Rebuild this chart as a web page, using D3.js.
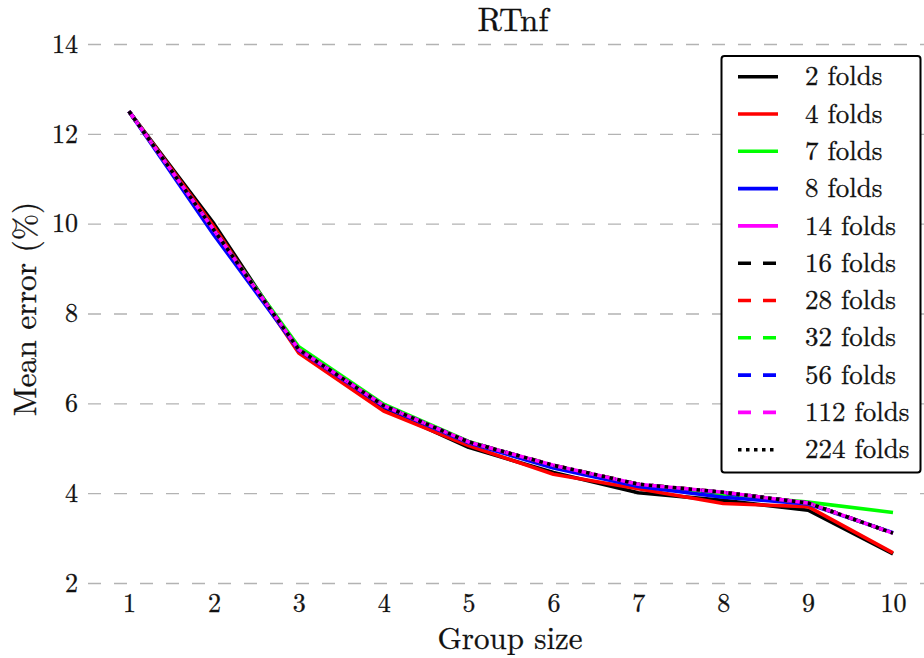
<!DOCTYPE html>
<html>
<head>
<meta charset="utf-8">
<title>RTnf</title>
<script src="https://d3js.org/d3.v7.min.js"></script>
<style>
  body { margin: 0; background: #fff; }
  svg text {
    font-family: "Latin Modern Roman", "Liberation Serif", serif;
    fill: #111;
    stroke: #111;
    stroke-width: 0.3px;
  }
</style>
</head>
<body>
<div id="chart"></div>
<script>
// group sizes on the x axis
var groupSize = [1, 2, 3, 4, 5, 6, 7, 8, 9, 10];
var yTicks = [2, 4, 6, 8, 10, 12, 14];

// mean error (%) per number of folds
var folds2   = [12.5, 10.00, 7.15, 5.88, 5.02, 4.46, 4.01, 3.84, 3.62, 2.65];
var folds4   = [12.5,  9.93, 7.12, 5.83, 5.06, 4.42, 4.10, 3.77, 3.70, 2.67];
var folds7   = [12.5,  9.85, 7.26, 5.98, 5.15, 4.60, 4.18, 3.97, 3.80, 3.57];
var folds8   = [12.5,  9.75, 7.18, 5.93, 5.12, 4.56, 4.15, 3.91, 3.76, 3.12];
var folds14  = [12.5,  9.86, 7.20, 5.95, 5.14, 4.62, 4.20, 4.02, 3.78, 3.11];
var folds16  = [12.5,  9.87, 7.20, 5.95, 5.14, 4.61, 4.20, 4.01, 3.78, 3.11];
var folds28  = [12.5,  9.86, 7.20, 5.95, 5.14, 4.62, 4.20, 4.02, 3.78, 3.11];
var folds32  = [12.5,  9.86, 7.21, 5.96, 5.14, 4.62, 4.20, 4.02, 3.78, 3.11];
var folds56  = [12.5,  9.85, 7.20, 5.95, 5.14, 4.61, 4.19, 4.01, 3.78, 3.11];
var folds112 = [12.5,  9.86, 7.20, 5.95, 5.14, 4.62, 4.20, 4.02, 3.78, 3.11];
var folds224 = [12.5,  9.86, 7.20, 5.95, 5.14, 4.62, 4.20, 4.02, 3.78, 3.11];

var series = [
  { name: "2 folds",   values: folds2,   color: "#000000", dash: null },
  { name: "4 folds",   values: folds4,   color: "#ff0000", dash: null },
  { name: "7 folds",   values: folds7,   color: "#00ff00", dash: null },
  { name: "8 folds",   values: folds8,   color: "#0000ff", dash: null },
  { name: "14 folds",  values: folds14,  color: "#ff00ff", dash: null },
  { name: "16 folds",  values: folds16,  color: "#000000", dash: "13,12" },
  { name: "28 folds",  values: folds28,  color: "#ff0000", dash: "13,12" },
  { name: "32 folds",  values: folds32,  color: "#00ff00", dash: "13,12" },
  { name: "56 folds",  values: folds56,  color: "#0000ff", dash: "13,12" },
  { name: "112 folds", values: folds112, color: "#ff00ff", dash: "13,12" },
  { name: "224 folds", values: folds224, color: "#000000", dash: "3.5,4.5" }
];

var W = 924, H = 658;
var gridLeft = 88, gridRight = 924;

var svg = d3.select("#chart").append("svg")
    .attr("width", W)
    .attr("height", H);

var x = d3.scaleLinear().domain([1, 10]).range([129, 893]);
var y = d3.scaleLinear().domain([2, 14]).range([583, 44]);

// y axis with dashed horizontal grid
var yAxis = svg.append("g")
    .attr("transform", "translate(" + gridLeft + ",0)")
    .call(d3.axisLeft(y).tickValues(yTicks).tickSize(-(gridRight - gridLeft)).tickPadding(10));
yAxis.attr("font-family", null).attr("font-size", null);
yAxis.select(".domain").remove();
yAxis.selectAll(".tick line")
    .attr("stroke", "#b3b3b3")
    .attr("stroke-width", 1.4)
    .attr("stroke-dasharray", "13,13");
yAxis.selectAll(".tick text")
    .style("font-size", "26px");

// x axis, labels only
var xAxis = svg.append("g")
    .attr("transform", "translate(0,583)")
    .call(d3.axisBottom(x).tickValues(groupSize).tickSize(0).tickPadding(11));
xAxis.attr("font-family", null).attr("font-size", null);
xAxis.select(".domain").remove();
xAxis.selectAll(".tick text")
    .style("font-size", "26px");

// lines
var line = d3.line()
    .x(function (d, i) { return x(groupSize[i]); })
    .y(function (d) { return y(d); });

svg.append("g").selectAll("path")
    .data(series)
    .enter()
    .append("path")
    .attr("d", function (d) { return line(d.values); })
    .attr("fill", "none")
    .attr("stroke", function (d) { return d.color; })
    .attr("stroke-width", 3.6)
    .attr("stroke-linejoin", "round")
    .attr("stroke-dasharray", function (d) { return d.dash; });

// title and axis labels
svg.append("text")
    .attr("x", 513).attr("y", 31)
    .attr("text-anchor", "middle")
    .style("font-size", "33px")
    .text("RTnf");

svg.append("text")
    .attr("x", 510).attr("y", 649)
    .attr("text-anchor", "middle")
    .style("font-size", "31px")
    .text("Group size");

svg.append("text")
    .attr("transform", "translate(36,309) rotate(-90)")
    .attr("text-anchor", "middle")
    .style("font-size", "31.5px")
    .text("Mean error (%)");

// legend
var legend = svg.append("g");
legend.append("rect")
    .attr("x", 721.5).attr("y", 56)
    .attr("width", 199).attr("height", 416.5)
    .attr("rx", 3)
    .attr("fill", "#fff")
    .attr("stroke", "#000")
    .attr("stroke-width", 2);

var rows = legend.selectAll(".row")
    .data(series)
    .enter()
    .append("g")
    .attr("class", "row")
    .attr("transform", function (d, i) { return "translate(0," + (76.7 + i * 37.3) + ")"; });

rows.append("line")
    .attr("x1", 738).attr("x2", 778)
    .attr("stroke", function (d) { return d.color; })
    .attr("stroke-width", 3.6)
    .attr("stroke-dasharray", function (d) { return d.dash; });

rows.append("text")
    .attr("x", 805)
    .attr("dy", "0.32em")
    .style("font-size", "27px")
    .text(function (d) { return d.name; });
</script>
</body>
</html>
